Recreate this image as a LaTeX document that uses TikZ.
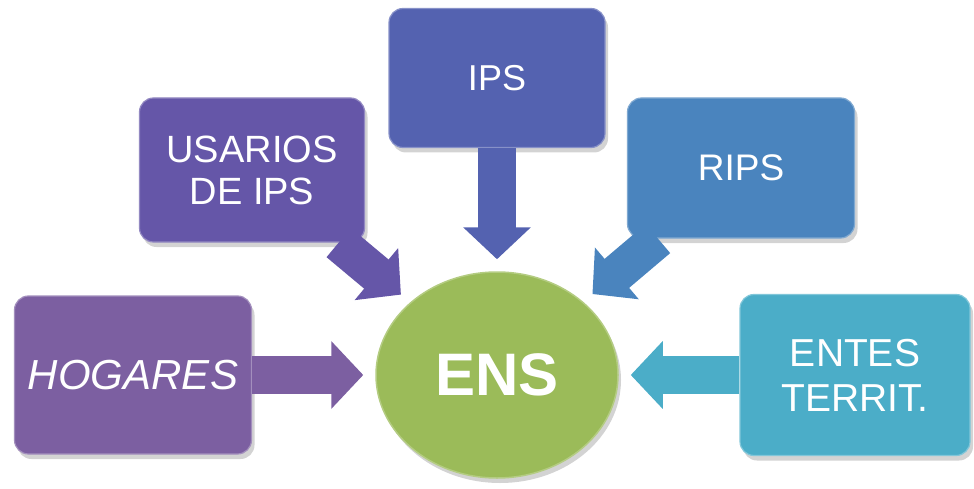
\documentclass[tikz,border=0pt]{standalone}
\usepackage{fontspec}
\setmainfont{Liberation Sans}
\usetikzlibrary{shapes.geometric,arrows.meta,shadows}
\definecolor{cHog}{HTML}{7C5FA1}
\definecolor{cUsr}{HTML}{6556A8}
\definecolor{cIps}{HTML}{5462B0}
\definecolor{cRips}{HTML}{4A84BE}
\definecolor{cEnt}{HTML}{4BADC8}
\definecolor{cEns}{HTML}{9BBB59}
\tikzset{
  box/.style={rectangle, rounded corners=14pt, fill=#1, draw=#1!70!white,
    line width=1.2pt, text=white, align=center, inner sep=0pt,
    drop shadow={shadow xshift=3pt, shadow yshift=-5pt, opacity=0.35}},
  blockarrow/.style={draw=#1, line width=38pt,
    -{Triangle[width=66pt,length=32pt]}, shorten >=12pt}
}
\begin{document}
\begin{tikzpicture}[x=1pt,y=-1pt]
\useasboundingbox (0,0) rectangle (974,489);
% nodes
\node[ellipse, fill=cEns, draw=cEns!75!white, line width=1.5pt,
  minimum width=242pt, minimum height=206pt, inner sep=0pt, text=white,
  font=\fontsize{60}{60}\selectfont\bfseries,
  drop shadow={shadow xshift=3pt, shadow yshift=-5pt, opacity=0.35}]
  (ens) at (497,375) {ENS};
\node[box=cHog, minimum width=237pt, minimum height=158pt,
  font=\fontsize{42}{42}\selectfont\itshape]
  (hog) at (133,375) {HOGARES};
\node[box=cUsr, minimum width=225pt, minimum height=144pt,
  font=\fontsize{38}{42}\selectfont]
  (usr) at (252,170) {USARIOS\\DE IPS};
\node[box=cIps, minimum width=216pt, minimum height=139pt,
  font=\fontsize{36}{36}\selectfont]
  (ips) at (497,78) {IPS};
\node[box=cRips, minimum width=227pt, minimum height=140pt,
  font=\fontsize{37}{37}\selectfont]
  (rips) at (741,168) {RIPS};
\node[box=cEnt, minimum width=230pt, minimum height=161pt,
  font=\fontsize{39}{45}\selectfont]
  (ent) at (855,375) {ENTES\\TERRIT.};
% connectors
\draw[blockarrow=cHog] (hog) -- (ens);
\draw[blockarrow=cUsr] (usr) -- (ens);
\draw[blockarrow=cIps] (ips) -- (ens);
\draw[blockarrow=cRips] (rips) -- (ens);
\draw[blockarrow=cEnt] (ent) -- (ens);
\end{tikzpicture}
\end{document}
